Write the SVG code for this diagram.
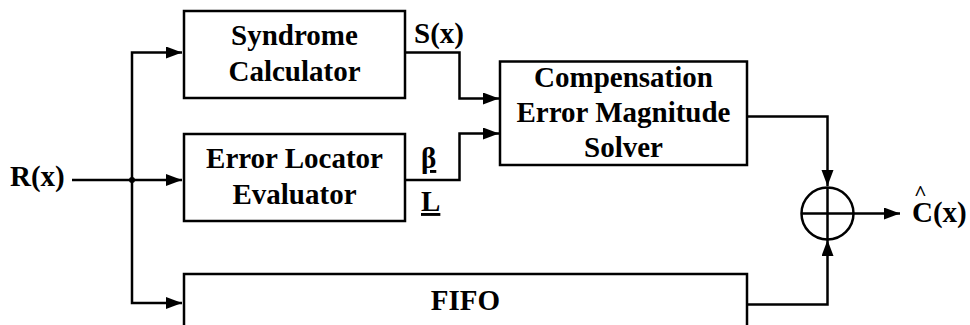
<svg xmlns="http://www.w3.org/2000/svg" width="970" height="325" viewBox="0 0 970 325">
<defs>
<marker id="ah" markerUnits="userSpaceOnUse" markerWidth="17" markerHeight="13" refX="16" refY="6" orient="auto">
<path d="M0,0 L16,6 L0,12 Z" fill="#000"/>
</marker>
</defs>
<rect width="970" height="325" fill="#fff"/>
<g id="connectors" fill="none" stroke="#000" stroke-width="2.5">
<path d="M72,180 H182" marker-end="url(#ah)"/>
<path d="M132,180 V52.5 H182" marker-end="url(#ah)"/>
<path d="M132,180 V303 H182" marker-end="url(#ah)"/>
<circle cx="132" cy="180" r="3" fill="#000" stroke="none"/>
<path d="M405,52.5 H459.5 V98.5 H499" marker-end="url(#ah)"/>
<path d="M405,180 H459.5 V133.5 H499" marker-end="url(#ah)"/>
<path d="M747,116.5 H827.5 V186" marker-end="url(#ah)"/>
<path d="M747,304.5 H827.5 V240" marker-end="url(#ah)"/>
<path d="M853.5,213.5 H900" marker-end="url(#ah)"/>
</g>
<g id="syndrome">
<rect x="184" y="11" width="221" height="87" fill="#fff" stroke="#000" stroke-width="2.5"/>
<text x="294.5" y="45" text-anchor="middle" font-family="Times New Roman" font-weight="bold" font-size="29">Syndrome</text>
<text x="294.5" y="81" text-anchor="middle" font-family="Times New Roman" font-weight="bold" font-size="29">Calculator</text>
<text x="414" y="43" font-family="Times New Roman" font-weight="bold" font-size="29">S(x)</text>
</g>
<g id="locator">
<rect x="184" y="134" width="221" height="87" fill="#fff" stroke="#000" stroke-width="2.5"/>
<text x="294.5" y="168" text-anchor="middle" font-family="Times New Roman" font-weight="bold" font-size="29">Error Locator</text>
<text x="294.5" y="204" text-anchor="middle" font-family="Times New Roman" font-weight="bold" font-size="29">Evaluator</text>
<text x="421" y="168" text-decoration="underline" font-family="Times New Roman" font-weight="bold" font-size="29">β</text>
<text x="421" y="211" text-decoration="underline" font-family="Times New Roman" font-weight="bold" font-size="29">L</text>
</g>
<g id="compensation">
<rect x="500" y="61.5" width="247" height="103.5" fill="#fff" stroke="#000" stroke-width="2.5"/>
<text x="623.5" y="87" text-anchor="middle" font-family="Times New Roman" font-weight="bold" font-size="29">Compensation</text>
<text x="623.5" y="122" text-anchor="middle" font-family="Times New Roman" font-weight="bold" font-size="29">Error Magnitude</text>
<text x="623.5" y="157" text-anchor="middle" font-family="Times New Roman" font-weight="bold" font-size="29">Solver</text>
</g>
<g id="fifo">
<rect x="184" y="274" width="563" height="70" fill="#fff" stroke="#000" stroke-width="2.5"/>
<text x="465.5" y="310" text-anchor="middle" font-family="Times New Roman" font-weight="bold" font-size="29">FIFO</text>
</g>
<g id="adder" fill="none" stroke="#000" stroke-width="2.5">
<circle cx="827.5" cy="213.5" r="26"/>
<path d="M801.5,213.5 H853.5 M827.5,187.5 V239.5"/>
</g>
<g id="input">
<text x="10" y="186" font-family="Times New Roman" font-weight="bold" font-size="29">R(x)</text>
</g>
<g id="output">
<text x="912" y="222" font-family="Times New Roman" font-weight="bold" font-size="29">C(x)<tspan x="914" y="200" font-size="22">^</tspan></text>
</g>
</svg>
